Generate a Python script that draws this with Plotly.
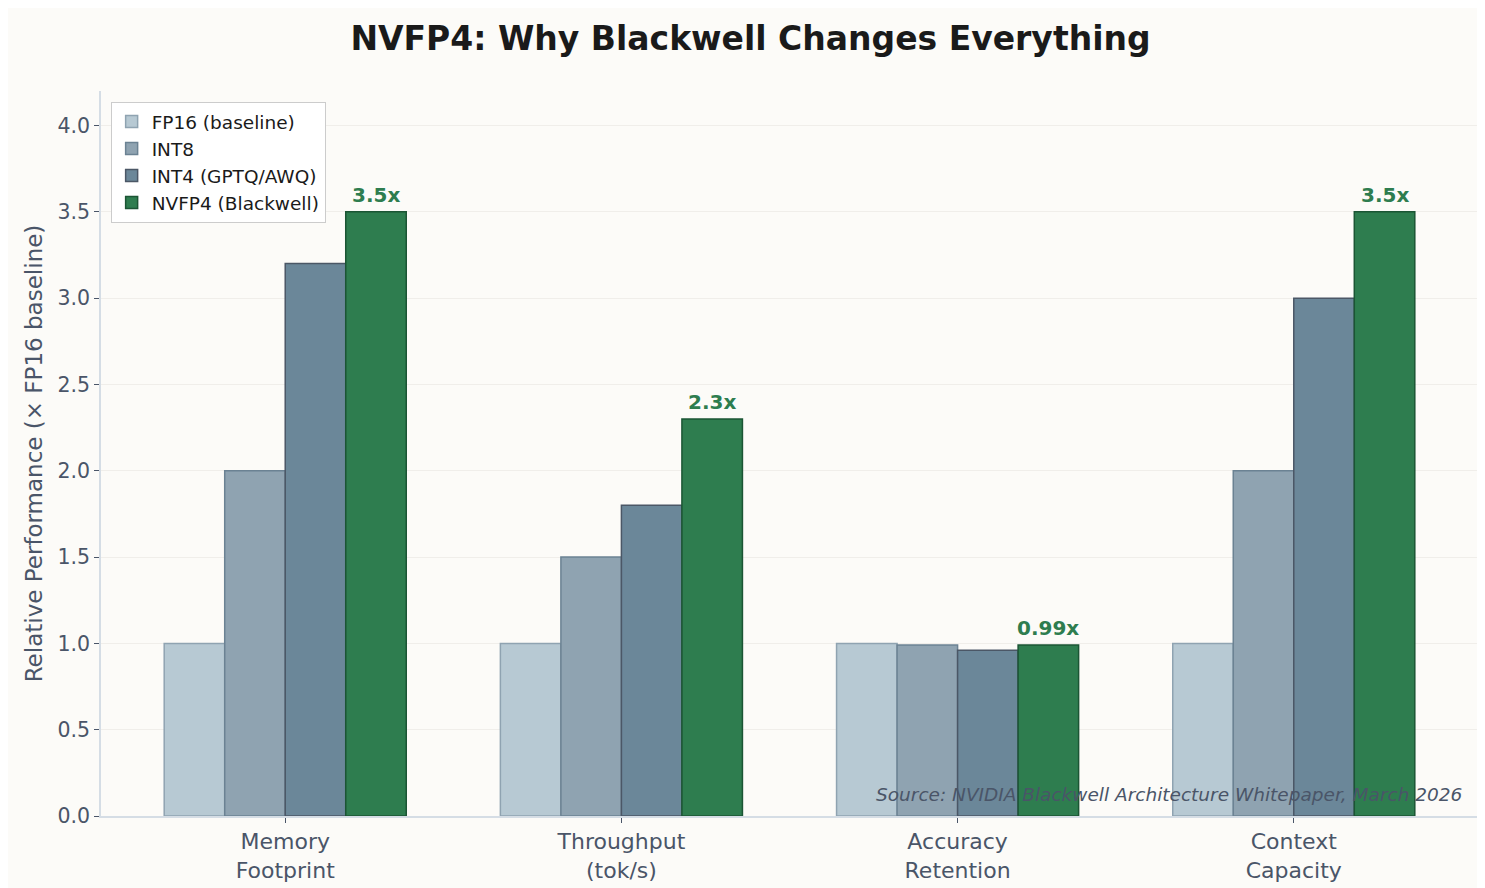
import plotly.graph_objects as go

categories = ["Memory<br>Footprint", "Throughput<br>(tok/s)", "Accuracy<br>Retention", "Context<br>Capacity"]
fp16 = [1.0, 1.0, 1.0, 1.0]
int8 = [2.0, 1.5, 0.99, 2.0]
int4 = [3.2, 1.8, 0.96, 3.0]
nvfp4 = [3.5, 2.3, 0.99, 3.5]
nvfp4_labels = ["3.5x", "2.3x", "0.99x", "3.5x"]

series = [
    ("FP16 (baseline)", fp16, "#b7c9d3", "#8fa3b1"),
    ("INT8", int8, "#8fa3b1", "#6b8293"),
    ("INT4 (GPTQ/AWQ)", int4, "#6b8799", "#4b5766"),
    ("NVFP4 (Blackwell)", nvfp4, "#2e7d4f", "#1b5534"),
]

x = list(range(len(categories)))
fig = go.Figure()
for name, vals, fill, edge in series:
    fig.add_trace(go.Bar(
        x=x, y=vals, name=name,
        marker=dict(color=fill, line=dict(color=edge, width=1.5)),
    ))

# value labels over the NVFP4 bars
for i, (v, lab) in enumerate(zip(nvfp4, nvfp4_labels)):
    fig.add_annotation(
        x=i + 0.27, y=v, text=f"<b>{lab}</b>", showarrow=False,
        yanchor="bottom", yshift=3,
        font=dict(family="DejaVu Sans", size=20, color="#2e7d4f"),
    )

fig.add_annotation(
    xref="paper", yref="paper", x=0.99, y=0.012, xanchor="right", yanchor="bottom",
    text="<i>Source: NVIDIA Blackwell Architecture Whitepaper, March 2026</i>",
    showarrow=False, font=dict(family="DejaVu Sans", size=18.5, color="#4a5568"),
)

fig.update_layout(
    width=1485, height=888,
    barmode="group", bargap=0.28, bargroupgap=0,
    paper_bgcolor="#fcfbf8", plot_bgcolor="#fcfbf8",
    font=dict(family="DejaVu Sans", size=20, color="#4a5568"),
    title=dict(text="<b>NVFP4: Why Blackwell Changes Everything</b>", x=0.5, y=0.966,
               xanchor="center", yanchor="middle",
               font=dict(family="DejaVu Sans", size=33, color="#1a1a1a")),
    margin=dict(l=93, r=15, t=83, b=80),
    legend=dict(x=0.007, y=0.985, xanchor="left", yanchor="top",
                bgcolor="white", bordercolor="#cccccc", borderwidth=1,
                font=dict(size=18.5, color="#1a1a1a"), tracegroupgap=0),
    xaxis=dict(tickmode="array", tickvals=x, ticktext=categories,
               range=[-0.548, 3.548], showgrid=False, zeroline=False,
               showline=True, linecolor="#d5dde5", linewidth=1.5,
               ticks="outside", ticklen=5, tickcolor="#4a5568",
               tickfont=dict(size=22, color="#4a5568")),
    yaxis=dict(range=[0, 4.2], dtick=0.5, tickformat=".1f",
               showgrid=True, gridcolor="#f0eeea", gridwidth=1, zeroline=False,
               showline=True, linecolor="#d5dde5", linewidth=1.5,
               ticks="outside", ticklen=5, tickcolor="#4a5568",
               tickfont=dict(size=20.5, color="#4a5568"),
               title=dict(text="Relative Performance (× FP16 baseline)",
                          font=dict(size=23, color="#4a5568"), standoff=8)),
)

fig.write_html("out.html")
